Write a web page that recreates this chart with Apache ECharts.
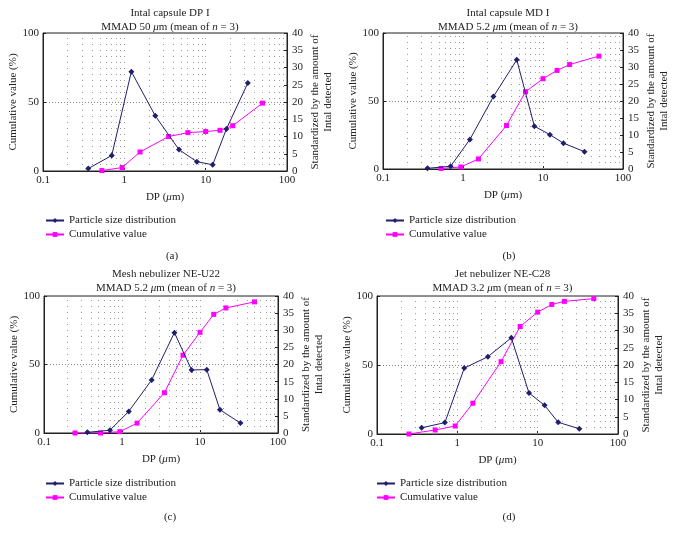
<!DOCTYPE html>
<html><head><meta charset="utf-8">
<script src="https://cdn.jsdelivr.net/npm/echarts@6/dist/echarts.min.js"></script>
<style>html,body{margin:0;padding:0;background:#fff}#c{width:676px;height:538px}</style>
</head><body><div id="c"></div>
<script>
// x positions (μm)
const psdX = [0.36, 0.7, 1.22, 2.4, 4.7, 7.8, 12.2, 18, 33];
const cumX = [0.25, 0.53, 0.94, 1.56, 3.5, 6.05, 10, 15, 21.5, 50];
// panel (a) Intal capsule DP I
const psdA = [0.7, 4.5, 28.8, 16.0, 6.2, 2.7, 1.8, 12.2, 25.5];
const cumA = [null, 0.3, 2.5, 13.8, 25, 27.8, 28.6, 29.5, 32.8, 49.2];
// panel (b) Intal capsule MD I
const psdB = [0.2, 0.8, 8.7, 21.3, 32.1, 12.6, 10.1, 7.6, 5.1];
const cumB = [null, 0.4, 1.5, 7.4, 32.0, 56.8, 66.4, 72.5, 76.8, 83];
// panel (c) Mesh nebulizer NE-U22
const psdC = [0.2, 0.8, 6.3, 15.5, 29.3, 18.4, 18.5, 6.8, 2.9];
const cumC = [0, 0, 1.0, 7.2, 29.4, 56.8, 73.5, 86.6, 91.3, 95.7];
// panel (d) Jet nebulizer NE-C28
const psdD = [1.8, 3.3, 19.1, 22.4, 27.9, 11.9, 8.3, 3.4, 1.5];
const cumD = [0, 2.9, 5.8, 22.3, 52.4, 77.9, 88.3, 93.9, 96.1, 98.1];

const titles1 = ['Intal capsule DP I', 'Intal capsule MD I', 'Mesh nebulizer NE-U22', 'Jet nebulizer NE-C28'];
const mmad = ['50', '5.2', '5.2', '3.2'];
const captions = ['(a)', '(b)', '(c)', '(d)'];
const leftTicks = [0, 50, 100];
const rightTicks = [0, 40, 5];
const gridX = [0.2,0.3,0.4,0.5,0.6,0.7,0.8,0.9,1,2,3,4,5,6,7,8,9,10,20,30,40,50,60,70,80,90];
const psdName = 'Particle size distribution';
const cumName = 'Cumulative value';

const psdAll = [psdA, psdB, psdC, psdD];
const cumAll = [cumA, cumB, cumC, cumD];

const FONT = 'Liberation Serif';
const TXT = '#222';
const NAVY = '#1f1f6c';
const MAG = '#ff00ff';

// layout
const grids = [
  {left: 43, top: 33, width: 244, height: 138},
  {left: 383, top: 33, width: 240, height: 136},
  {left: 44, top: 296, width: 234, height: 137},
  {left: 377, top: 296, width: 241, height: 138}
];
const titleTop = [1, 1, 262, 262];
const capPos = [[167, 246], [504, 246], [165, 507], [504, 507]];
const legPos = [[45, 215], [385, 215], [45, 478], [376, 478]];

const option = {
  animation: false,
  backgroundColor: '#fff',
  title: [], legend: [], grid: [], xAxis: [], yAxis: [], series: []
};

for (let p = 0; p < 4; p++) {
  const g = grids[p];
  option.grid.push(Object.assign({show: true, borderColor: '#222', borderWidth: 1, containLabel: false}, g));
  option.title.push({
    text: titles1[p] + '\nMMAD ' + mmad[p] + ' {i|μ}m (mean of {i|n} = 3)',
    left: g.left + g.width / 2, top: titleTop[p], textAlign: 'center',
    textStyle: {fontFamily: FONT, fontSize: 11, fontWeight: 'normal', color: TXT, lineHeight: 14,
      rich: {i: {fontFamily: FONT, fontSize: 11, fontStyle: 'italic', color: TXT}}}
  });
  option.title.push({
    text: captions[p], left: capPos[p][0], top: capPos[p][1], textAlign: 'center',
    textStyle: {fontFamily: FONT, fontSize: 11, fontWeight: 'normal', color: TXT}
  });
  option.legend.push({
    data: [psdName, cumName], orient: 'vertical', left: legPos[p][0], top: legPos[p][1],
    itemWidth: 18, itemHeight: 6, itemGap: 3, padding: 0,
    textStyle: {fontFamily: FONT, fontSize: 11, color: TXT}
  });
  option.xAxis.push({
    type: 'log', logBase: 10, min: 0.1, max: 100, gridIndex: p,
    name: 'DP ({i|μ}m)', nameLocation: 'middle', nameGap: 21,
    nameTextStyle: {fontFamily: FONT, fontSize: 11, color: TXT,
      rich: {i: {fontFamily: FONT, fontSize: 11, fontStyle: 'italic', color: TXT}}},
    axisLine: {lineStyle: {color: '#222'}},
    axisTick: {show: true, inside: true, length: 3, lineStyle: {color: '#222'}},
    axisLabel: {fontFamily: FONT, fontSize: 11, color: TXT, margin: 4,
      formatter: v => String(+(+v).toPrecision(3))},
    splitLine: {show: false}, minorTick: {show: false}
  });
  option.yAxis.push({
    type: 'value', min: leftTicks[0], max: leftTicks[2], interval: leftTicks[1], gridIndex: p,
    name: 'Cumulative value (%)', nameLocation: 'middle', nameGap: 24, nameRotate: 90,
    nameTextStyle: {fontFamily: FONT, fontSize: 11, color: TXT},
    axisLine: {show: true, lineStyle: {color: '#222'}},
    axisTick: {show: true, inside: true, length: 3, lineStyle: {color: '#222'}},
    axisLabel: {fontFamily: FONT, fontSize: 11, color: TXT, margin: 4},
    splitLine: {show: true, lineStyle: {color: '#888', type: [1, 2], width: 1}}
  });
  option.yAxis.push({
    type: 'value', min: rightTicks[0], max: rightTicks[1], interval: rightTicks[2], gridIndex: p, position: 'right',
    name: 'Standardized by the amount of\nIntal detected', nameLocation: 'middle', nameGap: 22, nameRotate: 90,
    nameTextStyle: {fontFamily: FONT, fontSize: 11, color: TXT, lineHeight: 13},
    axisLine: {show: true, lineStyle: {color: '#222'}},
    axisTick: {show: true, inside: true, length: 3, lineStyle: {color: '#222'}},
    axisLabel: {fontFamily: FONT, fontSize: 11, color: TXT, margin: 5},
    splitLine: {show: false}
  });
  option.series.push({
    type: 'line', name: psdName, xAxisIndex: p, yAxisIndex: 2 * p + 1,
    data: psdX.map((x, i) => [x, psdAll[p][i]]),
    symbol: 'diamond', symbolSize: 6, z: 4,
    lineStyle: {color: NAVY, width: 1}, itemStyle: {color: NAVY},
    markLine: {silent: true, symbol: ['none', 'none'], label: {show: false}, z: 1,
      lineStyle: {color: '#999', type: [1, 5], width: 1},
      data: gridX.map(v => ({xAxis: v}))}
  });
  option.series.push({
    type: 'line', name: cumName, xAxisIndex: p, yAxisIndex: 2 * p,
    data: cumX.map((x, i) => [x, cumAll[p][i]]).filter(d => d[1] !== null),
    symbol: 'rect', symbolSize: 5, z: 3,
    lineStyle: {color: MAG, width: 1}, itemStyle: {color: MAG}
  });
}

const chart = echarts.init(document.getElementById('c'), null, {renderer: 'canvas'});
chart.setOption(option);
</script></body></html>
